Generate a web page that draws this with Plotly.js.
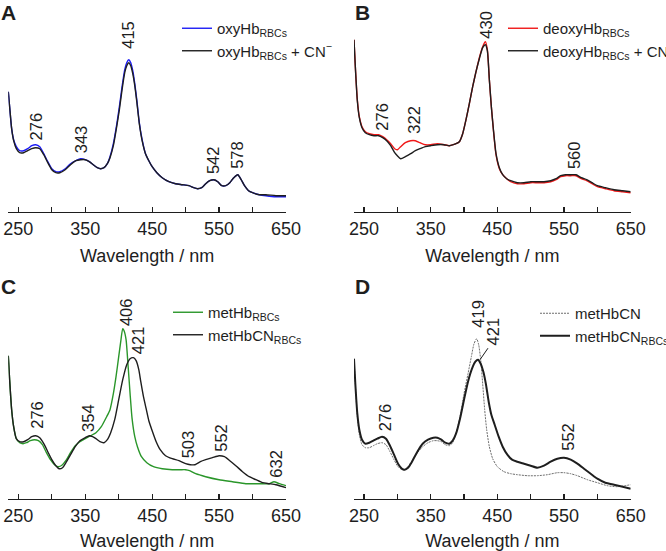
<!DOCTYPE html>
<html><head><meta charset="utf-8">
<script src="https://cdn.plot.ly/plotly-3.0.1.min.js"></script>
<style>html,body{margin:0;padding:0;background:#fff}#chart{width:666px;height:551px}</style>
</head><body><div id="chart"></div>
<script>
// ---------- Panel A: oxyHb ----------
const wlA = [235,237,240,243,247,252,258,264,270,276,282,288,294,300,306,312,320,328,336,343,350,356,362,368,373,378,383,387,392,397,401,405,409,412,415,418,421,424,427,431,435,440,445,450,457,465,475,485,495,505,512,518,524,530,536,542,548,554,560,566,572,578,583,588,594,600,610,620,635,650];
const oxyHb = [1.19,1.04,0.82,0.71,0.64,0.60,0.60,0.62,0.65,0.66,0.64,0.57,0.49,0.42,0.39,0.39,0.42,0.47,0.50,0.52,0.51,0.49,0.46,0.43,0.42,0.43,0.47,0.54,0.67,0.86,1.04,1.24,1.41,1.48,1.51,1.48,1.40,1.27,1.11,0.87,0.71,0.57,0.50,0.44,0.38,0.33,0.29,0.27,0.26,0.25,0.23,0.22,0.23,0.27,0.30,0.31,0.29,0.25,0.25,0.28,0.33,0.36,0.31,0.25,0.20,0.18,0.16,0.15,0.14,0.14];
const oxyHbCN = [1.19,1.04,0.82,0.70,0.62,0.58,0.58,0.60,0.62,0.63,0.62,0.56,0.48,0.41,0.38,0.38,0.41,0.46,0.50,0.51,0.51,0.49,0.46,0.43,0.42,0.43,0.47,0.53,0.65,0.84,1.01,1.21,1.38,1.45,1.48,1.45,1.37,1.25,1.09,0.86,0.70,0.57,0.50,0.44,0.38,0.33,0.29,0.27,0.26,0.25,0.23,0.22,0.23,0.27,0.30,0.31,0.29,0.25,0.25,0.28,0.33,0.36,0.31,0.25,0.20,0.18,0.16,0.16,0.15,0.15];
const peaksA = [276,343,415,542,578];
const peaksAx = [276,343,414,540,577];
const peaksAy = [0.69,0.56,1.61,0.36,0.41];

// ---------- Panel B: deoxyHb ----------
const wlB = [235,237,240,243,247,252,258,265,272,278,284,290,296,300,305,312,320,327,334,342,350,360,370,378,384,388,393,398,403,408,413,418,423,428,432,435,438,441,444,448,453,458,464,470,480,490,500,510,520,530,538,545,552,560,568,576,584,592,600,612,625,638,650];
const deoxyHb = [1.71,1.44,1.11,0.94,0.84,0.79,0.77,0.76,0.76,0.74,0.71,0.67,0.62,0.61,0.64,0.68,0.70,0.70,0.68,0.66,0.66,0.67,0.66,0.65,0.66,0.67,0.69,0.77,0.91,1.07,1.24,1.39,1.53,1.64,1.69,1.61,1.31,1.04,0.81,0.56,0.42,0.36,0.32,0.29,0.27,0.27,0.28,0.28,0.28,0.29,0.31,0.34,0.35,0.35,0.35,0.32,0.30,0.27,0.24,0.22,0.20,0.19,0.18];
const deoxyHbCN = [1.71,1.44,1.10,0.93,0.83,0.78,0.76,0.75,0.75,0.73,0.70,0.65,0.58,0.55,0.52,0.54,0.57,0.60,0.62,0.64,0.65,0.66,0.66,0.65,0.66,0.67,0.69,0.77,0.91,1.07,1.24,1.39,1.52,1.63,1.66,1.60,1.31,1.04,0.82,0.57,0.43,0.36,0.32,0.30,0.28,0.28,0.29,0.29,0.29,0.30,0.32,0.35,0.36,0.36,0.36,0.33,0.31,0.28,0.25,0.23,0.21,0.20,0.19];
const peaksB = [276,322,430,560];
const peaksBx = [277,325,433,564];
const peaksBy = [0.79,0.76,1.71,0.41];

// ---------- Panel C: metHb vs metHbCN (RBCs) ----------
const wlMetHb = [235,237,240,243,247,252,257,262,268,274,280,286,292,298,304,310,316,322,328,335,342,350,358,366,374,382,387,392,396,400,403,406,408,411,414,417,420,424,428,434,442,452,465,480,492,500,506,515,530,550,570,590,610,625,632,640,650];
const metHb = [1.43,1.19,0.89,0.72,0.60,0.56,0.55,0.56,0.58,0.59,0.58,0.54,0.46,0.39,0.34,0.32,0.34,0.39,0.46,0.53,0.57,0.60,0.63,0.66,0.72,0.82,0.89,1.05,1.22,1.42,1.57,1.70,1.68,1.59,1.33,1.05,0.80,0.62,0.52,0.42,0.36,0.32,0.30,0.29,0.29,0.29,0.28,0.25,0.22,0.19,0.17,0.15,0.15,0.15,0.17,0.15,0.13];
const wlMetHbCN = [235,237,240,243,247,252,258,264,270,276,282,288,294,300,306,311,316,322,328,335,342,350,356,361,366,372,378,383,388,394,400,406,412,417,422,426,430,433,437,441,445,450,456,462,470,480,490,500,507,514,522,530,540,550,558,566,575,585,595,605,615,625,635,650];
const metHbCN = [1.43,1.19,0.89,0.72,0.60,0.57,0.57,0.59,0.62,0.63,0.61,0.55,0.47,0.39,0.33,0.30,0.31,0.37,0.44,0.52,0.58,0.61,0.63,0.62,0.60,0.57,0.56,0.59,0.66,0.79,0.99,1.19,1.34,1.40,1.41,1.38,1.29,1.17,1.02,0.90,0.78,0.68,0.57,0.49,0.43,0.40,0.38,0.35,0.34,0.34,0.37,0.39,0.41,0.43,0.42,0.38,0.33,0.27,0.22,0.19,0.16,0.15,0.14,0.11];
const peaksC = [276,354,406,421,503,552,632];
const peaksCx = [278,353,410,428,503,553,635];
const peaksCy = [0.69,0.66,1.72,1.44,0.39,0.46,0.20];

// ---------- Panel D: metHbCN vs metHbCN (RBCs) ----------
const wlD1 = [235,237,240,243,247,252,258,264,270,277,283,289,295,301,307,311,316,322,330,338,346,354,360,366,372,378,383,388,394,400,406,411,415,419,422,425,428,431,434,438,443,450,460,470,480,495,510,525,540,550,560,570,585,600,615,630,650];
const metHbCNfree = [1.40,1.15,0.82,0.64,0.54,0.51,0.51,0.53,0.55,0.56,0.54,0.47,0.39,0.32,0.29,0.29,0.32,0.38,0.46,0.52,0.56,0.58,0.58,0.57,0.54,0.53,0.56,0.65,0.82,1.05,1.25,1.42,1.55,1.60,1.54,1.39,1.15,0.89,0.69,0.52,0.40,0.32,0.27,0.25,0.24,0.23,0.23,0.24,0.26,0.26,0.25,0.23,0.19,0.16,0.13,0.12,0.14];
const wlD2 = [235,237,240,243,247,252,258,264,270,277,283,289,295,301,307,311,316,322,330,338,346,354,360,366,372,378,383,388,394,400,406,412,417,421,425,429,433,437,441,446,452,458,465,472,480,490,500,510,520,530,540,550,560,570,580,590,600,612,625,638,650];
const metHbCNrbc = [1.40,1.15,0.85,0.69,0.59,0.55,0.56,0.58,0.60,0.62,0.60,0.53,0.44,0.35,0.30,0.29,0.31,0.37,0.47,0.55,0.59,0.61,0.61,0.59,0.56,0.55,0.58,0.65,0.80,0.99,1.17,1.30,1.37,1.39,1.35,1.27,1.14,0.97,0.84,0.74,0.62,0.52,0.44,0.39,0.37,0.35,0.33,0.31,0.33,0.37,0.40,0.41,0.39,0.35,0.30,0.25,0.20,0.16,0.14,0.12,0.10];
const peaksD = [276,419,421,552];
const peaksDx = [281,421,443,556];
const peaksDy = [0.66,1.70,1.52,0.47];

const FONT = 'Liberation Sans, Arial, sans-serif';
const INK = '#1e1e1e';
const W = 666, H = 551;

function xax(dom, anchor){
  return {domain: dom, anchor: anchor, range: [235,650], showline: true, linecolor: INK, linewidth: 1.3,
    ticks: 'inside', ticklen: 5, tickwidth: 1.3, tickcolor: INK, tick0: 250, dtick: 100,
    minor: {tick0: 250, dtick: 50, ticks: 'inside', ticklen: 5, tickwidth: 1.3, tickcolor: INK, showgrid: false},
    showgrid: false, zeroline: false, fixedrange: true,
    tickfont: {family: FONT, size: 18, color: INK},
    title: {text: 'Wavelength / nm', font: {family: FONT, size: 18, color: INK}, standoff: 11}};
}
function yax(dom, range, anchor){
  return {domain: dom, anchor: anchor, range: range, visible: false, showgrid: false, zeroline: false, fixedrange: true};
}
const xA = [8.3/W, 286/W], xB = [354/W, 630.7/W];
const yT = [1-212/H, 1], yBt = [1-499/H, 1-270/H];

const sp = {shape: 'spline', smoothing: 0.6};
const traces = [
  {x: wlA, y: oxyHb, name: 'oxyHb<sub>RBCs</sub>', xaxis: 'x', yaxis: 'y', legend: 'legend', mode: 'lines', line: Object.assign({color: '#1c1cf5', width: 1.4}, sp)},
  {x: wlA, y: oxyHbCN, name: 'oxyHb<sub>RBCs</sub> + CN<sup>\u2212</sup>', xaxis: 'x', yaxis: 'y', legend: 'legend', mode: 'lines', line: Object.assign({color: INK, width: 1.4}, sp)},
  {x: wlB, y: deoxyHb, name: 'deoxyHb<sub>RBCs</sub>', xaxis: 'x2', yaxis: 'y2', legend: 'legend2', mode: 'lines', line: Object.assign({color: '#f01818', width: 1.4}, sp)},
  {x: wlB, y: deoxyHbCN, name: 'deoxyHb<sub>RBCs</sub> + CN<sup>\u2212</sup>', xaxis: 'x2', yaxis: 'y2', legend: 'legend2', mode: 'lines', line: Object.assign({color: INK, width: 1.4}, sp)},
  {x: wlMetHb, y: metHb, name: 'metHb<sub>RBCs</sub>', xaxis: 'x3', yaxis: 'y3', legend: 'legend3', mode: 'lines', line: Object.assign({color: '#2a962a', width: 1.4}, sp)},
  {x: wlMetHbCN, y: metHbCN, name: 'metHbCN<sub>RBCs</sub>', xaxis: 'x3', yaxis: 'y3', legend: 'legend3', mode: 'lines', line: Object.assign({color: INK, width: 1.4}, sp)},
  {x: wlD1, y: metHbCNfree, name: 'metHbCN', xaxis: 'x4', yaxis: 'y4', legend: 'legend4', mode: 'lines', line: Object.assign({color: '#6e6e6e', width: 1, dash: '2px,1px'}, sp)},
  {x: wlD2, y: metHbCNrbc, name: 'metHbCN<sub>RBCs</sub>', xaxis: 'x4', yaxis: 'y4', legend: 'legend4', mode: 'lines', line: Object.assign({color: INK, width: 2}, sp)}
];

const annotations = [];
function addPeaks(labels, xs, ys, xr, yr){
  labels.forEach((t, i) => annotations.push({text: String(t), x: xs[i], y: ys[i], xref: xr, yref: yr,
    showarrow: false, textangle: -90, xanchor: 'center', yanchor: 'bottom', borderpad: 0,
    font: {family: FONT, size: 16.5, color: INK}}));
}
addPeaks(peaksA, peaksAx, peaksAy, 'x', 'y');
addPeaks(peaksB, peaksBx, peaksBy, 'x2', 'y2');
addPeaks(peaksC, peaksCx, peaksCy, 'x3', 'y3');
addPeaks(peaksD, peaksDx, peaksDy, 'x4', 'y4');
// leader line for 421 label in panel D
annotations.push({text: '', x: 424, y: 1.39, xref: 'x4', yref: 'y4', showarrow: true, arrowhead: 0, arrowwidth: 1, arrowcolor: INK, ax: 9, ay: -13, standoff: 0});
// panel letters
[['A', 0, 0], ['B', 354, 0], ['C', 0, 274], ['D', 354, 274]].forEach(p => annotations.push({
  text: '<b>' + p[0] + '</b>', xref: 'paper', yref: 'paper', x: p[1]/W, y: 1 - p[2]/H, xanchor: 'left', yanchor: 'top',
  showarrow: false, borderpad: 0, font: {family: FONT, size: 21, color: INK}}));

function leg(x, y){
  return {x: x/W, y: 1 - y/H, xanchor: 'left', yanchor: 'top', bgcolor: 'rgba(0,0,0,0)', borderwidth: 0,
    font: {family: FONT, size: 15, color: INK}, tracegroupgap: 0, itemwidth: 30};
}

const layout = {
  width: W, height: H, margin: {l: 0, r: 0, t: 0, b: 0, autoexpand: false},
  paper_bgcolor: '#fff', plot_bgcolor: 'rgba(0,0,0,0)', showlegend: true,
  xaxis: xax(xA, 'y'), yaxis: yax(yT, [-0.013, 2.107], 'x'),
  xaxis2: xax(xB, 'y2'), yaxis2: yax(yT, [-0.013, 2.107], 'x2'),
  xaxis3: xax(xA, 'y3'), yaxis3: yax(yBt, [-0.003, 2.287], 'x3'),
  xaxis4: xax(xB, 'y4'), yaxis4: yax(yBt, [-0.003, 2.287], 'x4'),
  legend: leg(177, 12), legend2: leg(503, 12), legend3: leg(168, 296), legend4: leg(535, 297),
  annotations: annotations
};
Plotly.newPlot('chart', traces, layout, {staticPlot: true, displayModeBar: false});
</script>
</body></html>
